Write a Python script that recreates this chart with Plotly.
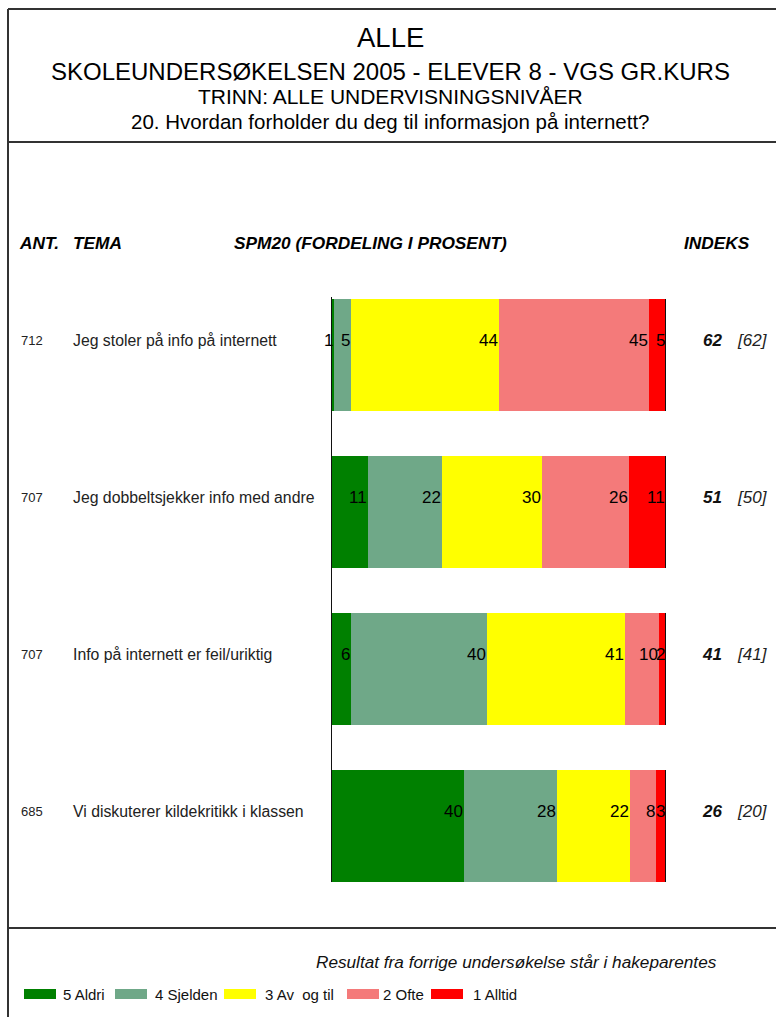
import plotly.graph_objects as go

# ---------------- data ----------------
categories = ["Jeg stoler på info på internett",
              "Jeg dobbeltsjekker info med andre",
              "Info på internett er feil/uriktig",
              "Vi diskuterer kildekritikk i klassen"]
ant = [712, 707, 707, 685]
series_names = ["5 Aldri", "4 Sjelden", "3 Av  og til", "2 Ofte", "1 Alltid"]
aldri = [1, 11, 6, 40]
sjelden = [5, 22, 40, 28]
av_og_til = [44, 30, 41, 22]
ofte = [45, 26, 10, 8]
alltid = [5, 11, 2, 3]
indeks = [62, 51, 41, 26]
indeks_prev = [62, 50, 41, 20]

series = [aldri, sjelden, av_og_til, ofte, alltid]
colors = ["#008000", "#6fa888", "#ffff00", "#f47a7a", "#ff0000"]

W, H = 776, 1017
FONT = "Liberation Sans"


def px(x):
    return x / W


def py(y):
    return 1 - y / H


ypos = list(range(len(categories)))
totals = [sum(s[i] for s in series) for i in ypos]
# shares normalised to the row total so every bar fills 100 %
shares = [[s[i] * 100.0 / totals[i] for i in ypos] for s in series]

fig = go.Figure()
for name, vals, sh, col in zip(series_names, series, shares, colors):
    fig.add_trace(go.Bar(y=ypos, x=sh, orientation="h", name=name,
                         marker=dict(color=col, line=dict(width=0)),
                         customdata=vals, hovertemplate="%{customdata}<extra>" + name + "</extra>",
                         showlegend=False))

annotations = []
shapes = []

for i in ypos:
    cum = 0
    for vals, sh in zip(series, shares):
        cum += sh[i]
        annotations.append(dict(x=cum, y=i, xref="x", yref="y", text=str(vals[i]),
                                showarrow=False, xanchor="right", yanchor="middle",
                                yshift=15, xshift=1,
                                font=dict(family=FONT, size=17, color="#000")))
    shapes.append(dict(type="line", xref="x", yref="y", x0=cum, x1=cum,
                       y0=i - 0.357, y1=i + 0.357,
                       line=dict(color="#111", width=2)))
    annotations.append(dict(x=px(19), y=i, xref="paper", yref="y", text=str(ant[i]),
                            showarrow=False, xanchor="left", yanchor="middle", yshift=15,
                            font=dict(family=FONT, size=13, color="#222")))
    annotations.append(dict(x=px(71), y=i, xref="paper", yref="y", text=categories[i],
                            showarrow=False, xanchor="left", yanchor="middle", yshift=15,
                            font=dict(family=FONT, size=15.8, color="#222")))
    annotations.append(dict(x=px(724), y=i, xref="paper", yref="y",
                            text="<b><i>%d</i></b>" % indeks[i],
                            showarrow=False, xanchor="right", yanchor="middle", yshift=15,
                            font=dict(family=FONT, size=17, color="#111")))
    annotations.append(dict(x=px(735), y=i, xref="paper", yref="y",
                            text="<i>[%d]</i>" % indeks_prev[i],
                            showarrow=False, xanchor="left", yanchor="middle", yshift=15,
                            font=dict(family=FONT, size=17, color="#222")))

shapes.append(dict(type="line", xref="x", yref="y", x0=0, x1=0, y0=-0.37, y1=len(categories) - 1 + 0.357,
                   line=dict(color="#111", width=2)))

frame_col = "#333"
shapes += [
    dict(type="line", xref="paper", yref="paper", x0=px(8), x1=px(8), y0=py(9), y1=0,
         line=dict(color=frame_col, width=2)),
    dict(type="line", xref="paper", yref="paper", x0=px(8), x1=1, y0=py(9), y1=py(9),
         line=dict(color=frame_col, width=2)),
    dict(type="line", xref="paper", yref="paper", x0=px(8), x1=1, y0=py(142), y1=py(142),
         line=dict(color=frame_col, width=2)),
    dict(type="line", xref="paper", yref="paper", x0=px(8), x1=1, y0=py(928), y1=py(928),
         line=dict(color=frame_col, width=2)),
]

titles = [("ALLE", 37, 27.5), ("SKOLEUNDERSØKELSEN 2005 - ELEVER 8 - VGS GR.KURS", 71, 24),
          ("TRINN: ALLE UNDERVISNINGSNIVÅER", 97, 21),
          ("20. Hvordan forholder du deg til informasjon på internett?", 122, 20.5)]
for t, y, s in titles:
    annotations.append(dict(x=px(390), y=py(y), xref="paper", yref="paper", text=t,
                            showarrow=False, xanchor="center", yanchor="middle",
                            font=dict(family=FONT, size=s, color="#000")))

hdr = [("ANT.", 17), ("TEMA", 71), ("SPM20 (FORDELING I PROSENT)", 232), ("INDEKS", 682)]
for t, x in hdr:
    annotations.append(dict(x=px(x), y=py(243), xref="paper", yref="paper",
                            text="<b><i>%s</i></b>" % t, showarrow=False,
                            xanchor="left", yanchor="middle",
                            font=dict(family=FONT, size=17.3, color="#000")))

annotations.append(dict(x=px(719), y=py(962), xref="paper", yref="paper",
                        text="<i>Resultat fra forrige undersøkelse står i hakeparentes</i>",
                        showarrow=False, xanchor="right", yanchor="middle",
                        font=dict(family=FONT, size=17.2, color="#111")))

leg_boxes = [24, 115, 224, 347, 431]
leg_text = [61, 153, 263, 381, 471]
for name, col, bx, tx in zip(series_names, colors, leg_boxes, leg_text):
    shapes.append(dict(type="rect", xref="paper", yref="paper", x0=px(bx), x1=px(bx + 32),
                       y0=py(999), y1=py(989), fillcolor=col, line=dict(width=0)))
    annotations.append(dict(x=px(tx), y=py(994), xref="paper", yref="paper", text=name,
                            showarrow=False, xanchor="left", yanchor="middle",
                            font=dict(family=FONT, size=15, color="#111")))

fig.update_layout(
    width=W, height=H, barmode="stack", bargap=0.287,
    margin=dict(l=0, r=0, t=0, b=0),
    paper_bgcolor="white", plot_bgcolor="white",
    xaxis=dict(domain=[px(331), px(666)], range=[0, 100], visible=False, fixedrange=True),
    yaxis=dict(domain=[py(904.5), py(276.5)], range=[3.5, -0.5], visible=False, fixedrange=True),
    annotations=annotations, shapes=shapes,
)

fig.write_html("out.html")
